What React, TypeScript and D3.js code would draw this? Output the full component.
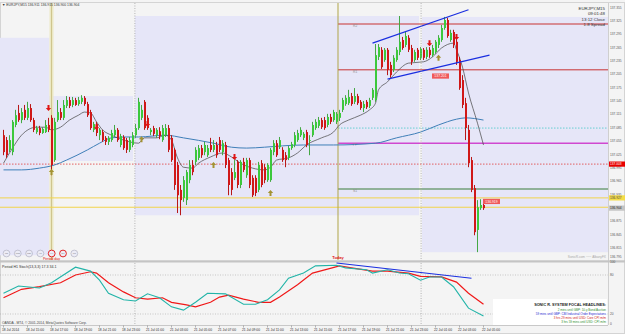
import React from 'react';
import * as d3 from 'd3';

const W = 625;
const H = 334;

// EURJPY M15 candles, [open, high, low, close]
const ohlc: number[][] = [
  [137.068, 137.080, 137.023, 137.030], [137.057, 137.064, 137.017, 137.023], [137.035, 137.068, 137.030, 137.057],
  [137.030, 137.102, 137.023, 137.098], [137.091, 137.125, 137.086, 137.113], [137.118, 137.136, 137.098, 137.102],
  [137.102, 137.129, 137.095, 137.120], [137.125, 137.136, 137.102, 137.107], [137.107, 137.143, 137.102, 137.129],
  [137.129, 137.138, 137.098, 137.102], [137.102, 137.107, 137.075, 137.080], [137.075, 137.089, 137.071, 137.084],
  [137.084, 137.089, 137.068, 137.073], [137.073, 137.086, 137.071, 137.082], [137.075, 137.102, 137.073, 137.091],
  [137.091, 137.107, 137.075, 137.080], [137.107, 137.113, 136.978, 137.001], [137.012, 137.107, 137.008, 137.098],
  [137.102, 137.147, 137.098, 137.120], [137.120, 137.129, 137.102, 137.107], [137.107, 137.147, 137.102, 137.136],
  [137.134, 137.156, 137.129, 137.147], [137.147, 137.154, 137.129, 137.134], [137.136, 137.154, 137.131, 137.147],
  [137.147, 137.152, 137.134, 137.136], [137.138, 137.154, 137.134, 137.147], [137.143, 137.158, 137.138, 137.152],
  [137.152, 137.156, 137.134, 137.138], [137.138, 137.143, 137.109, 137.113], [137.120, 137.125, 137.080, 137.084],
  [137.080, 137.098, 137.075, 137.093], [137.093, 137.098, 137.066, 137.073], [137.068, 137.084, 137.057, 137.080],
  [137.075, 137.080, 137.053, 137.057], [137.062, 137.066, 137.046, 137.053], [137.053, 137.066, 137.046, 137.062],
  [137.057, 137.080, 137.053, 137.073], [137.068, 137.091, 137.064, 137.080], [137.080, 137.084, 137.053, 137.057],
  [137.046, 137.071, 137.041, 137.066], [137.064, 137.068, 137.035, 137.039], [137.057, 137.062, 137.028, 137.035],
  [137.035, 137.064, 137.030, 137.057], [137.046, 137.075, 137.041, 137.068], [137.068, 137.093, 137.062, 137.084],
  [137.084, 137.152, 137.080, 137.143], [137.107, 137.136, 137.102, 137.125], [137.143, 137.147, 137.080, 137.084],
  [137.107, 137.113, 137.080, 137.084], [137.075, 137.084, 137.068, 137.080], [137.084, 137.089, 137.066, 137.071],
  [137.068, 137.084, 137.062, 137.080], [137.077, 137.086, 137.059, 137.066], [137.057, 137.091, 137.053, 137.084],
  [137.068, 137.093, 137.064, 137.084], [137.084, 137.091, 137.030, 137.035], [137.062, 137.068, 137.008, 137.012],
  [137.035, 137.039, 136.945, 136.956], [137.001, 137.008, 136.893, 136.933], [136.945, 136.956, 136.888, 136.922],
  [136.927, 136.976, 136.918, 136.967], [136.922, 136.990, 136.911, 136.985], [136.967, 137.012, 136.960, 137.001],
  [137.001, 137.012, 136.978, 136.985], [137.008, 137.041, 137.001, 137.035], [137.017, 137.046, 137.012, 137.039],
  [137.039, 137.046, 137.017, 137.023], [137.030, 137.053, 137.023, 137.046], [137.023, 137.046, 137.019, 137.039],
  [137.046, 137.062, 137.030, 137.035], [137.035, 137.057, 137.030, 137.046], [137.046, 137.053, 137.017, 137.023],
  [137.057, 137.064, 137.030, 137.035], [137.030, 137.057, 137.023, 137.050], [137.046, 137.053, 136.994, 137.001],
  [137.012, 137.017, 136.933, 136.956], [136.985, 136.994, 136.933, 136.945], [136.972, 137.012, 136.967, 136.985],
  [137.008, 137.012, 136.949, 136.956], [136.956, 137.012, 136.949, 137.008], [137.008, 137.017, 136.985, 136.990],
  [136.978, 137.017, 136.972, 137.012], [137.012, 137.017, 136.949, 136.956], [136.972, 136.978, 136.929, 136.933],
  [136.972, 136.978, 136.931, 136.938], [136.945, 137.008, 136.940, 137.001], [137.005, 137.012, 136.951, 136.956],
  [136.996, 137.003, 136.960, 136.967], [136.967, 137.005, 136.963, 137.001], [136.967, 137.039, 136.963, 137.035],
  [137.030, 137.057, 137.023, 137.050], [137.050, 137.057, 137.019, 137.023], [137.041, 137.064, 137.037, 137.057],
  [137.035, 137.041, 137.008, 137.012], [137.023, 137.030, 136.996, 137.012], [137.017, 137.044, 137.012, 137.039],
  [137.039, 137.053, 137.035, 137.048], [137.046, 137.075, 137.041, 137.068], [137.057, 137.080, 137.053, 137.073],
  [137.068, 137.086, 137.064, 137.080], [137.062, 137.075, 137.057, 137.071], [137.075, 137.080, 137.041, 137.046],
  [137.057, 137.068, 137.023, 137.057], [137.068, 137.098, 137.064, 137.091], [137.084, 137.104, 137.080, 137.098],
  [137.089, 137.109, 137.084, 137.102], [137.102, 137.107, 137.082, 137.086], [137.102, 137.109, 137.080, 137.084],
  [137.091, 137.116, 137.086, 137.109], [137.109, 137.116, 137.093, 137.098], [137.102, 137.125, 137.098, 137.120],
  [137.098, 137.120, 137.093, 137.116], [137.107, 137.125, 137.100, 137.118], [137.125, 137.152, 137.120, 137.147],
  [137.138, 137.158, 137.134, 137.152], [137.140, 137.170, 137.136, 137.154], [137.156, 137.163, 137.134, 137.138],
  [137.143, 137.174, 137.138, 137.156], [137.156, 137.161, 137.136, 137.140], [137.143, 137.147, 137.125, 137.129],
  [137.129, 137.145, 137.120, 137.138], [137.143, 137.147, 137.127, 137.131], [137.134, 137.152, 137.129, 137.147],
  [137.152, 137.174, 137.147, 137.170], [137.147, 137.273, 137.143, 137.248], [137.244, 137.273, 137.237, 137.266],
  [137.260, 137.266, 137.217, 137.221], [137.237, 137.264, 137.233, 137.260], [137.260, 137.264, 137.203, 137.215],
  [137.226, 137.233, 137.197, 137.203], [137.215, 137.248, 137.210, 137.242], [137.237, 137.266, 137.233, 137.260],
  [137.255, 137.336, 137.248, 137.278], [137.282, 137.289, 137.260, 137.264], [137.271, 137.300, 137.266, 137.291],
  [137.287, 137.293, 137.255, 137.260], [137.264, 137.271, 137.226, 137.233], [137.237, 137.260, 137.233, 137.255],
  [137.260, 137.264, 137.237, 137.242], [137.242, 137.266, 137.237, 137.262], [137.260, 137.264, 137.237, 137.242],
  [137.244, 137.266, 137.239, 137.260], [137.260, 137.266, 137.242, 137.248], [137.248, 137.271, 137.244, 137.264],
  [137.255, 137.282, 137.251, 137.278], [137.271, 137.293, 137.264, 137.287], [137.282, 137.316, 137.278, 137.309],
  [137.309, 137.334, 137.305, 137.327], [137.327, 137.332, 137.287, 137.291], [137.282, 137.305, 137.278, 137.298],
  [137.300, 137.305, 137.264, 137.271], [137.278, 137.287, 137.226, 137.233], [137.237, 137.244, 137.170, 137.174],
  [137.192, 137.203, 137.129, 137.136], [137.140, 137.152, 137.057, 137.084], [137.080, 137.091, 136.996, 137.005],
  [137.012, 137.019, 136.940, 136.945], [136.949, 136.956, 136.843, 136.850], [136.855, 136.922, 136.805, 136.906],
  [136.904, 136.924, 136.900, 136.911], [136.911, 136.915, 136.900, 136.904],
];

// moving averages, [bar, price]
const maFast: number[][] = [
  [0, 137.005], [3, 137.039], [6, 137.068], [11, 137.086], [14, 137.086], [16, 137.080], [19, 137.086],
  [22, 137.102], [25, 137.113], [27, 137.120], [29, 137.118], [31, 137.098], [33, 137.080], [36, 137.068],
  [40, 137.057], [42, 137.053], [45, 137.050], [47, 137.062], [51, 137.062], [54, 137.068], [56, 137.057],
  [58, 137.017], [60, 136.996], [63, 136.994], [65, 137.005], [69, 137.019], [73, 137.028], [76, 137.019],
  [79, 137.005], [83, 136.994], [87, 136.990], [89, 136.996], [91, 137.012], [95, 137.017], [98, 137.028],
  [101, 137.046], [106, 137.062], [110, 137.075], [112, 137.091], [115, 137.102], [119, 137.113], [122, 137.125],
  [124, 137.140], [125, 137.170], [128, 137.188], [131, 137.210], [135, 137.230], [140, 137.233], [143, 137.244],
  [146, 137.264], [150, 137.275], [151, 137.260], [153, 137.221], [155, 137.163], [158, 137.095], [160, 137.046],
];
const maSlow: number[][] = [
  [0, 136.990], [6, 136.990], [12, 136.994], [17, 137.001], [21, 137.012], [28, 137.035], [32, 137.050],
  [36, 137.062], [41, 137.064], [45, 137.064], [54, 137.068], [60, 137.062], [70, 137.050], [76, 137.041],
  [81, 137.039], [87, 137.041], [93, 137.044], [100, 137.046], [110, 137.046], [124, 137.050], [131, 137.062],
  [139, 137.075], [145, 137.091], [151, 137.104], [154, 137.107], [160, 137.102],
];

// stochastic (13,3,3), [bar, value]
const stochMain: number[][] = [
  [0, 52], [5, 63], [12, 60], [16, 68], [24, 92], [29, 86], [32, 72], [35, 52], [40, 42], [44, 40], [48, 51],
  [52, 45], [56, 31], [60, 26], [64, 38], [68, 52], [74, 51], [80, 35], [84, 35], [88, 42], [92, 57], [95, 75],
  [100, 83], [104, 94], [111, 95], [114, 91], [121, 88], [123, 83], [128, 88], [132, 83], [135, 82], [139, 72],
  [142, 77], [146, 77], [150, 62], [155, 29], [160, 17],
];
const stochSignal: number[][] = [
  [0, 45], [6, 58], [12, 62], [19, 68], [24, 80], [29, 85], [31, 83], [35, 68], [40, 54], [44, 45], [48, 43],
  [53, 45], [56, 38], [61, 34], [64, 31], [69, 38], [72, 46], [75, 49], [80, 43], [85, 38], [89, 38], [92, 46],
  [98, 65], [103, 83], [108, 89], [112, 94], [116, 91], [123, 86], [128, 86], [135, 83], [139, 78], [146, 77],
  [151, 69], [155, 52], [160, 35],
];
const stochTrend: number[][] = [[111, 98.5], [156, 75]];

// session boxes: bar range and price range
const sessions = [
  { from: -1.5, to: 15.2, hi: 137.287, lo: 136.798 },
  { from: 15.2, to: 43.2, hi: 137.156, lo: 137.010 },
  { from: 43.8, to: 138.5, hi: 137.336, lo: 136.888 },
  { from: 139.5, to: 203, hi: 137.334, lo: 136.805 },
];

const pivots = [
  { name: 'R2', price: 137.318 },
  { name: 'R1', price: 137.215 },
  { name: 'PP', price: 137.050 },
  { name: 'S1', price: 136.947 },
];
const midLevel = 137.084;
const redLevel = 137.003;
const yellowLevels = [136.927, 136.906];
const lastPrice = 136.904;

const channelUpper: number[][] = [[123, 137.275], [155, 137.350]];
const channelLower: number[][] = [[128, 137.194], [162, 137.248]];

const sellArrows: number[][] = [[15, 137.129], [31, 137.086], [48, 137.093], [77, 137.019], [142, 137.275], [151, 137.289]];
const buyArrows: number[][] = [[16, 136.985], [46, 137.059], [70, 137.001], [89, 136.938], [145, 137.242]];

const chartTags = [
  { bar: 145.5, price: 137.201, text: '137.201' },
  { bar: 162.5, price: 136.919, text: '136.919' },
];

const priceTicks = [
  137.355, 137.325, 137.295, 137.265, 137.235, 137.205, 137.175, 137.145, 137.115, 137.085,
  137.055, 137.025, 136.995, 136.965, 136.935, 136.905, 136.875, 136.845, 136.815, 136.795,
];
const stochTicks = [100, 80, 20, 0];

const periodDayBar = 16;
const todayBar = 111.5;
const daySeparators = [43.8, 139.2];

const timeLabels = [
  '18 Jul 2014', '18 Jul 15:00', '18 Jul 17:00', '18 Jul 19:00', '18 Jul 21:00', '18 Jul 23:00',
  '21 Jul 01:00', '21 Jul 03:00', '21 Jul 05:00', '21 Jul 07:00', '21 Jul 09:00', '21 Jul 11:00',
  '21 Jul 13:00', '21 Jul 15:00', '21 Jul 17:00', '21 Jul 19:00', '21 Jul 21:00', '21 Jul 23:00',
  '22 Jul 01:00', '22 Jul 03:00', '22 Jul 05:00',
];

const tfButtons = ['M5', 'M15', 'M30', 'H1', 'H4', 'D1', 'W1'];

const headlines = [
  { text: '2 mins until GBP: 10-y Bond Auction', color: '#2f8f2f' },
  { text: '59 mins until GBP: CBI Industrial Order Expectations', color: '#1f1fd0' },
  { text: '3 hrs 29 mins until USD: Core CPI m/m', color: '#d02020' },
  { text: '3 hrs 59 mins until USD: CPI m/m', color: '#2f8f2f' },
];

const FONT = '"Liberation Sans", Arial, sans-serif';

export default function App() {
  const x = d3.scaleLinear().domain([0, 160]).range([3.5, 483.5]);
  const y = d3.scaleLinear().domain([136.795, 137.372]).range([256.6, 0]);
  const ys = d3.scaleLinear().domain([0, 100]).range([327, 262]);

  const plotRight = 608;
  const mainTop = 3;
  const mainBottom = 260;

  const maLine = d3.line<number[]>().x(d => x(d[0])).y(d => y(d[1])).curve(d3.curveMonotoneX);
  const stLine = d3.line<number[]>().x(d => x(d[0])).y(d => ys(d[1]));

  const downArrow = (cx: number, cy: number) =>
    `M${cx - 1},${cy - 3}h2v3h1.7L${cx},${cy + 3}L${cx - 2.7},${cy}h1.7Z`;
  const upArrow = (cx: number, cy: number) =>
    `M${cx - 1},${cy + 3}h2v-3h1.7L${cx},${cy - 3}L${cx - 2.7},${cy}h1.7Z`;

  const todayX = x(todayBar);

  return (
    <svg width={W} height={H} style={{ position: 'absolute', left: 0, top: 0, fontFamily: FONT }}>
      <defs>
        <clipPath id="mainClip">
          <rect x={0} y={mainTop} width={plotRight} height={mainBottom - mainTop} />
        </clipPath>
      </defs>

      <rect x={0} y={0} width={W} height={H} fill="#f4f4f4" />
      <rect x={0.5} y={2.5} width={W - 1} height={H - 3} fill="none" stroke="#d4d4d4" />

      <g clipPath="url(#mainClip)">
        {/* session boxes */}
        {sessions.map((s, i) => (
          <rect key={i} x={x(s.from)} y={y(s.hi)} width={x(s.to) - x(s.from)} height={y(s.lo) - y(s.hi)} fill="#e6e6f8" />
        ))}

        {/* period day band */}
        <rect x={x(periodDayBar) - 2} y={mainTop} width={4} height={mainBottom - mainTop} fill="#ebe8c4" />
        <line x1={x(periodDayBar)} x2={x(periodDayBar)} y1={mainTop} y2={mainBottom} stroke="#cfc58e" strokeWidth={1} />

        {/* full width levels */}
        <line x1={0} x2={plotRight} y1={y(redLevel)} y2={y(redLevel)} stroke="#e03c3c" strokeWidth={0.8} strokeDasharray="1.5,1.5" />
        {yellowLevels.map((p, i) => (
          <line key={i} x1={0} x2={plotRight} y1={y(p)} y2={y(p)} stroke="#f2d44a" strokeWidth={1} />
        ))}

        {/* pivot levels from today */}
        <line x1={todayX} x2={plotRight} y1={y(midLevel)} y2={y(midLevel)} stroke="#45c8c8" strokeWidth={0.8} strokeDasharray="1.5,1.5" />
        {pivots.map(p => {
          const c = p.name === 'PP' ? '#d048d0' : p.name === 'S1' ? '#3a7d3a' : '#c83232';
          return (
            <g key={p.name}>
              <line x1={todayX} x2={plotRight} y1={y(p.price)} y2={y(p.price)} stroke={c} strokeWidth={p.name === 'PP' ? 1.6 : 1} />
              <text x={todayX + 15} y={y(p.price) + 3.2} fontSize={3.3} fill="#8a8a8a">{p.name}</text>
            </g>
          );
        })}

        {/* today line */}
        <line x1={todayX} x2={todayX} y1={mainTop} y2={mainBottom} stroke="#b0a548" strokeWidth={1} />

        {/* moving averages */}
        <path d={maLine(maSlow) || ''} fill="none" stroke="#3f7fb8" strokeWidth={1} />
        <path d={maLine(maFast) || ''} fill="none" stroke="#444" strokeWidth={0.7} />

        {/* candles */}
        {ohlc.map((d, i) => {
          const [o, h, l, c] = d;
          const up = c >= o;
          const col = up ? '#3cc83c' : '#d01818';
          const cx = x(i);
          const top = y(Math.max(o, c));
          const bh = Math.max(0.8, Math.abs(y(o) - y(c)));
          return (
            <g key={i}>
              <line x1={cx} x2={cx} y1={y(h)} y2={y(l)} stroke={up ? '#44a844' : '#b81818'} strokeWidth={1} />
              <rect x={cx - 0.5} y={top} width={2} height={bh} fill={col} />
            </g>
          );
        })}

        {/* channel */}
        <line x1={x(channelUpper[0][0])} y1={y(channelUpper[0][1])} x2={x(channelUpper[1][0])} y2={y(channelUpper[1][1])} stroke="#1a2ee0" strokeWidth={1.1} />
        <line x1={x(channelLower[0][0])} y1={y(channelLower[0][1])} x2={x(channelLower[1][0])} y2={y(channelLower[1][1])} stroke="#1a2ee0" strokeWidth={1.1} />

        {/* signal arrows */}
        {sellArrows.map((a, i) => (
          <path key={'s' + i} d={downArrow(x(a[0]), y(a[1]))} fill="#e01414" />
        ))}
        {buyArrows.map((a, i) => (
          <path key={'b' + i} d={upArrow(x(a[0]), y(a[1]))} fill="#a39233" />
        ))}

        {/* tags on chart */}
        {chartTags.map((t, i) => (
          <g key={i}>
            <rect x={x(t.bar) - 8} y={y(t.price) - 2.6} width={17} height={5.2} fill="#f05a5a" />
            <text x={x(t.bar) + 0.5} y={y(t.price) + 1.3} fontSize={3.4} fill="#fff" textAnchor="middle">{t.text}</text>
          </g>
        ))}
      </g>

      {/* day separators */}
      {daySeparators.map((b, i) => (
        <line key={i} x1={x(b)} x2={x(b)} y1={mainTop} y2={325} stroke="#9a9a9a" strokeWidth={0.7} strokeDasharray="1,1.5" />
      ))}

      {/* header */}
      <text x={2} y={6} fontSize={3.4} fill="#333">{'▼ EURJPY,M15  136.911 136.915 136.900 136.904'}</text>
      {['EURJPY,M15', '09:01:48', '13:12 Close', '1.8 Spread'].map((t, i) => (
        <text key={i} x={605} y={9.5 + i * 5.6} fontSize={4.4} fill="#333" textAnchor="end">{t}</text>
      ))}

      {/* bottom texts in main panel */}
      {tfButtons.map((b, i) => {
        const cx = 6.5 + i * 11.3;
        const red = i === 4 || i === 5;
        return (
          <g key={b}>
            <circle cx={cx} cy={253.5} r={3.4} fill="#ececf6" stroke={red ? '#e01010' : '#a8a8b8'} strokeWidth={red ? 0.9 : 0.6} />
            <text x={cx} y={254.4} fontSize={2.2} fill="#777" textAnchor="middle">{b}</text>
          </g>
        );
      })}
      <text x={x(periodDayBar)} y={259.6} fontSize={3.6} fill="#e01010" textAnchor="middle">Period day</text>
      <text x={todayX} y={258.5} fontSize={4} fill="#e01010" fontWeight="bold" textAnchor="middle">Today</text>
      <text x={606} y={258} fontSize={3.2} fill="#a8a8a8" textAnchor="end">SonicR.com ~~~ AlbanyFX</text>

      {/* price axis */}
      <line x1={plotRight + 0.5} x2={plotRight + 0.5} y1={mainTop} y2={325} stroke="#cfcfcf" />
      {priceTicks.map(p => (
        <text key={p} x={610} y={y(p) + 1.2} fontSize={3.2} fill="#555">{p.toFixed(3)}</text>
      ))}
      <rect x={609} y={y(redLevel) - 2.6} width={16} height={5.2} fill="#e80000" />
      <text x={610} y={y(redLevel) + 1.2} fontSize={3.2} fill="#fff">{redLevel.toFixed(3)}</text>
      <rect x={609} y={y(yellowLevels[0]) - 2.6} width={16} height={5.2} fill="#f4dc48" />
      <text x={610} y={y(yellowLevels[0]) + 1.2} fontSize={3.2} fill="#444">{yellowLevels[0].toFixed(3)}</text>
      <rect x={609} y={y(lastPrice) - 2.6} width={16} height={5.2} fill="#c4c4c4" />
      <text x={610} y={y(lastPrice) + 1.2} fontSize={3.2} fill="#222">{lastPrice.toFixed(3)}</text>

      {/* panel separator */}
      <rect x={0} y={260.3} width={W} height={2.2} fill="#c4c4c4" />

      {/* stochastic panel */}
      {[80, 20].map(v => (
        <line key={v} x1={0} x2={plotRight} y1={ys(v)} y2={ys(v)} stroke="#a8a8a8" strokeWidth={0.6} strokeDasharray="1,1.5" />
      ))}
      <path d={stLine(stochSignal) || ''} fill="none" stroke="#f01818" strokeWidth={1.2} />
      <path d={stLine(stochMain) || ''} fill="none" stroke="#22b4a8" strokeWidth={1.1} />
      <line x1={x(stochTrend[0][0])} y1={ys(stochTrend[0][1])} x2={x(stochTrend[1][0])} y2={ys(stochTrend[1][1])} stroke="#1a2ee0" strokeWidth={1.1} />
      <text x={2} y={267.8} fontSize={3.6} fill="#333">Period H1 Stoch(13,3,3) 17.3 34.1</text>
      <text x={2} y={323.5} fontSize={3.3} fill="#444">OANDA - MT4, © 2001-2014, MetaQuotes Software Corp.</text>
      {stochTicks.map(v => (
        <text key={v} x={610} y={Math.min(ys(v), 324) + 1.2} fontSize={3.2} fill="#555">{v}</text>
      ))}

      {/* headlines box */}
      <rect x={493} y={299} width={114} height={26} fill="#ffffff" />
      <text x={606} y={306} fontSize={3.8} fontWeight="bold" fill="#222" textAnchor="end">SONIC R. SYSTEM  FOCAL HEADLINES:</text>
      {headlines.map((h, i) => (
        <text key={i} x={606} y={310.8 + i * 4} fontSize={3} fill={h.color} textAnchor="end">{h.text}</text>
      ))}

      {/* time axis */}
      <line x1={0} x2={plotRight} y1={325.5} y2={325.5} stroke="#c8c8c8" />
      {timeLabels.map((t, i) => (
        <g key={i}>
          <line x1={x(i * 8)} x2={x(i * 8)} y1={325.5} y2={327.5} stroke="#888" strokeWidth={0.6} />
          <text x={x(i * 8) - 1.5} y={331} fontSize={3.3} fill="#333">{t}</text>
        </g>
      ))}
    </svg>
  );
}
